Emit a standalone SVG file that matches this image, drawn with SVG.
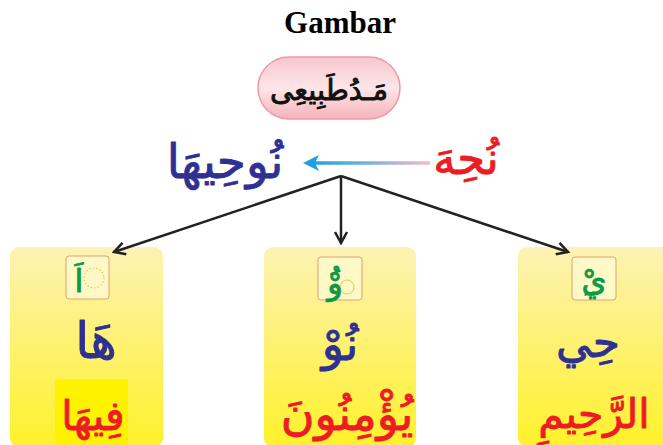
<svg xmlns="http://www.w3.org/2000/svg" width="663" height="445" viewBox="0 0 663 445">
<defs>
<linearGradient id="pill" x1="0" y1="0" x2="0" y2="1">
<stop offset="0" stop-color="#f7c6cc"/><stop offset="0.5" stop-color="#fde6e8"/><stop offset="1" stop-color="#f3b3bb"/>
</linearGradient>
<linearGradient id="box" x1="0" y1="0" x2="0" y2="1">
<stop offset="0" stop-color="#fdf2b4"/><stop offset="1" stop-color="#fff12a"/>
</linearGradient>
<linearGradient id="grad" gradientUnits="userSpaceOnUse" x1="310" y1="0" x2="430" y2="0">
<stop offset="0" stop-color="#1e9fe0"/><stop offset="0.5" stop-color="#7ab4dc"/><stop offset="1" stop-color="#f2bcc8"/>
</linearGradient>
<marker id="ah" viewBox="0 0 14 14" refX="12" refY="7" markerWidth="14" markerHeight="14" markerUnits="userSpaceOnUse" orient="auto">
<path d="M1,1 L12,7 L1,13" fill="none" stroke="#222" stroke-width="2.5"/>
</marker>
<style>
.ar{font-family:"DejaVu Sans",sans-serif;text-anchor:middle;stroke-width:0.9;stroke-linejoin:round}
.blue{fill:#2e3192;stroke:#2e3192}
.red{fill:#ed1c24;stroke:#ed1c24}
.green{fill:#0a9a48;stroke:#0a9a48}
.blk{fill:#111;stroke:#111}
.box{fill:url(#box)}
.sq{fill:#fff9c8;stroke:#e0a070;stroke-width:1}
</style>
</defs>
<rect width="663" height="445" fill="#ffffff"/>
<text x="340" y="33" font-family="Liberation Serif,serif" font-weight="bold" font-size="31" text-anchor="middle" fill="#000">Gambar</text>
<g id="pill-node">
<rect x="258" y="57" width="142" height="62" rx="31" fill="url(#pill)" stroke="#ee9aa6" stroke-width="1.5"/>
<text class="ar blk" x="329" y="100" font-size="29">مَـدُطَبِيعِى</text>
</g>
<g id="word-top">
<text class="ar blue" x="225" y="178" font-size="47">نُوحِيهَا</text>
</g>
<g id="word-root">
<text class="ar red" x="466" y="174" font-size="45">نُحِهَ</text>
</g>
<g id="box-left">
<rect class="box" x="10" y="247" width="153" height="200" rx="9"/>
<rect class="sq" x="66" y="256" width="43" height="43" rx="3"/>
<circle cx="94" cy="278" r="10" fill="none" stroke="#e8c84a" stroke-width="1.2" stroke-dasharray="1.5 2"/>
<text class="ar green" x="79" y="292" font-size="32">اَ</text>
<text class="ar blue" x="96" y="358" font-size="50">هَا</text>
<rect x="55" y="379" width="73" height="66" fill="#fff200"/>
<text class="ar red" x="93" y="430" font-size="41">فِيهَا</text>
</g>
<g id="box-middle">
<rect class="box" x="264" y="247" width="152" height="200" rx="9"/>
<rect class="sq" x="318" y="257" width="44" height="43" rx="3"/>
<circle cx="347" cy="287" r="7" fill="none" stroke="#e8c84a" stroke-width="1"/>
<text class="ar green" x="335" y="294" font-size="32">ُوْ</text>
<text class="ar blue" x="340" y="360" font-size="46">نُوْ</text>
<text class="ar red" x="347" y="430" font-size="46">يُؤْمِنُونَ</text>
</g>
<g id="box-right">
<rect class="box" x="518" y="247" width="152" height="200" rx="9"/>
<rect class="sq" x="572" y="257" width="44" height="43" rx="3"/>
<text class="ar green" x="594" y="291" font-size="32">ِيْ</text>
<text class="ar blue" x="588" y="357" font-size="44">حِي</text>
<text class="ar red" x="594" y="428" font-size="41">الرَّحِيمِ</text>
</g>
<g id="connectors">
<line x1="430" y1="163" x2="314" y2="163" stroke="url(#grad)" stroke-width="3.5"/>
<path d="M303,163 L319,155 L315,163 L319,171 Z" fill="#1e9fe0"/>
<line x1="341" y1="176" x2="114" y2="252" stroke="#222" stroke-width="2.5" marker-end="url(#ah)"/>
<line x1="341" y1="176" x2="341" y2="243" stroke="#222" stroke-width="2.5" marker-end="url(#ah)"/>
<line x1="341" y1="176" x2="568" y2="252" stroke="#222" stroke-width="2.5" marker-end="url(#ah)"/>
</g>
</svg>
